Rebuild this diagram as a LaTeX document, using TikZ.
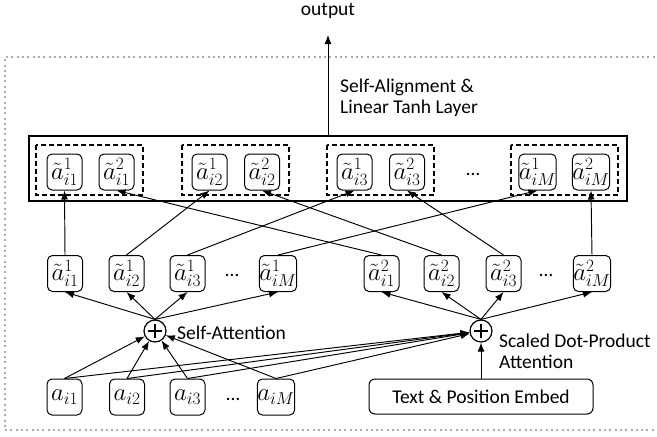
\documentclass[tikz,border=0pt]{standalone}
\usepackage{fontspec}
\setmainfont{Carlito}
\usetikzlibrary{arrows.meta}
\begin{document}
\begin{tikzpicture}[x=1pt,y=-1pt,
  every node/.style={font=\fontsize{19.5}{21}\selectfont},
  vec/.style={draw, rounded corners=5pt, minimum width=35pt, minimum height=36pt,
    inner sep=0pt, line width=1pt, font=\fontsize{24}{25}\selectfont},
  grp/.style={draw, dash pattern=on 5pt off 3pt, line width=1.1pt},
  layerbox/.style={draw, line width=1.4pt},
  sumnode/.style={draw, circle, minimum size=22pt, inner sep=0pt, line width=1.2pt},
  arr/.style={-{Latex[length=9pt,width=7pt]}, line width=0.95pt},
  dotsnode/.style={anchor=base, inner sep=0pt},
  frame/.style={draw=black!33, line width=2pt, dash pattern=on 2pt off 3.3pt}
]
\useasboundingbox (0,0) rectangle (657,437);

% outer dotted frame (open on the right)
\draw[frame] (660,57) -- (5,57) -- (5,430) -- (660,430);

% output
\node (out) at (328,11) {output};
\coordinate (outtip) at (328,35);

% self-alignment layer and its pair groups
\draw[layerbox] (29,136) rectangle (627,201);
\coordinate (boxtop) at (328,136);
\draw[grp] (36,145) rectangle (143,195);
\draw[grp] (182,145) rectangle (289,195);
\draw[grp] (327,145) rectangle (434,195);
\draw[grp] (511,145) rectangle (618,195);

\node[vec] (t11) at (64.5,172) {$\tilde{a}^{1}_{i1}$};
\node[vec] (t12) at (116.5,172) {$\tilde{a}^{2}_{i1}$};
\node[vec] (t21) at (209.5,172) {$\tilde{a}^{1}_{i2}$};
\node[vec] (t22) at (262,172) {$\tilde{a}^{2}_{i2}$};
\node[vec] (t31) at (354.5,172) {$\tilde{a}^{1}_{i3}$};
\node[vec] (t32) at (407,172) {$\tilde{a}^{2}_{i3}$};
\node[dotsnode] (tdots) at (473,175) {…};
\node[vec] (tM1) at (537.5,172) {$\tilde{a}^{1}_{iM}$};
\node[vec] (tM2) at (591,172) {$\tilde{a}^{2}_{iM}$};

\node[anchor=west, align=left, inner sep=0pt] (alignlbl) at (340,98) {Self-Alignment \&\\Linear Tanh Layer};

% attention outputs
\node[vec] (p1) at (65,273.5) {$\tilde{a}^{1}_{i1}$};
\node[vec] (p2) at (126.5,273.5) {$\tilde{a}^{1}_{i2}$};
\node[vec] (p3) at (187.5,273.5) {$\tilde{a}^{1}_{i3}$};
\node[dotsnode] (pdots) at (232,276.5) {…};
\node[vec] (pM) at (278,273.5) {$\tilde{a}^{1}_{iM}$};

\node[vec] (q1) at (381.5,273.5) {$\tilde{a}^{2}_{i1}$};
\node[vec] (q2) at (441.5,273.5) {$\tilde{a}^{2}_{i2}$};
\node[vec] (q3) at (503.5,273.5) {$\tilde{a}^{2}_{i3}$};
\node[dotsnode] (qdots) at (546,276.5) {…};
\node[vec] (qM) at (592,273.5) {$\tilde{a}^{2}_{iM}$};

% attention operators
\node[sumnode] (sL) at (155,331) {};
\node[sumnode] (sR) at (481,331) {};
\foreach \s in {sL,sR}{
  \draw[line width=1.1pt] (\s.center) ++(-7,0) -- ++(14,0);
  \draw[line width=1.1pt] (\s.center) ++(0,-7) -- ++(0,14);
}
\node[anchor=west, inner sep=0pt] (salbl) at (177,333) {Self-Attention};
\node[anchor=west, align=left, inner sep=0pt] (sdlbl) at (499,351) {Scaled Dot-Product\\Attention};

% inputs
\node[vec] (a1) at (64.5,397) {$a_{i1}$};
\node[vec] (a2) at (127,397) {$a_{i2}$};
\node[vec] (a3) at (187.5,397) {$a_{i3}$};
\node[dotsnode] (adots) at (233,400) {…};
\node[vec] (aM) at (276,397) {$a_{iM}$};
\node[draw, rounded corners=6pt, line width=1pt, minimum width=224pt, minimum height=35pt, inner sep=0pt] (emb) at (481,396.5) {Text \& Position Embed};

% connectors
\draw[arr] (boxtop) -- (outtip);

\foreach \a in {a1,a2,a3,aM}{
  \draw[arr] (\a.north) -- (sL);
  \draw[arr] (\a.north) -- (sR);
}
\draw[arr] (emb.north) -- (sR);

\foreach \p in {p1,p2,p3,pM}{ \draw[arr] (sL.north) -- (\p.south); }
\foreach \q in {q1,q2,q3,qM}{ \draw[arr] (sR.north) -- (\q.south); }

\draw[arr] (p1.north) -- (t11.south);
\draw[arr] (p2.north) -- (t21.south);
\draw[arr] (p3.north) -- (t31.south);
\draw[arr] (pM.north) -- (tM1.south);
\draw[arr] (q1.north) -- (t12.south);
\draw[arr] (q2.north) -- (t22.south);
\draw[arr] (q3.north) -- (t32.south);
\draw[arr] (qM.north) -- (tM2.south);
\end{tikzpicture}
\end{document}
